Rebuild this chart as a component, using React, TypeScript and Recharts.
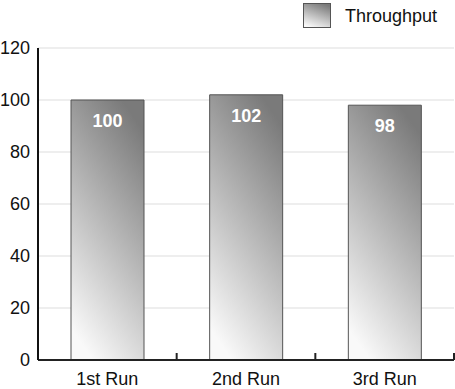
import { BarChart, Bar, XAxis, YAxis, CartesianGrid, LabelList } from "recharts";

const runs = ["1st Run", "2nd Run", "3rd Run"];
const throughput = [100, 102, 98];
const yTicks = [0, 20, 40, 60, 80, 100, 120];

const data = runs.map((run, i) => ({ run, throughput: throughput[i] }));

const font = "'Liberation Sans', Arial, sans-serif";

// label centred under the bar, small tick mark at the right edge of each category band
const RunTick = (props: any) => {
  const { x, y, payload } = props;
  const half = payload && payload.offset ? payload.offset : 69.5;
  const axisY = y - 14;
  return (
    <g>
      <line x1={x + half} x2={x + half} y1={axisY} y2={axisY - 7} stroke="#222" strokeWidth={2} />
      <text x={x} y={y} dy={11} textAnchor="middle" fontSize={18} fill="#111" fontFamily={font}>
        {payload.value}
      </text>
    </g>
  );
};

const App = () => {
  return (
    <div style={{ position: "absolute", left: 0, top: 0, width: 455, height: 389, background: "#fff" }}>
      <svg width={0} height={0} style={{ position: "absolute" }}>
        <defs>
          <linearGradient id="barGrad" x1="0.7" y1="0" x2="0.3" y2="1">
            <stop offset="0%" stopColor="#7a7a7a" />
            <stop offset="100%" stopColor="#f9f9f9" />
          </linearGradient>
        </defs>
      </svg>
      <BarChart
        width={455}
        height={389}
        data={data}
        margin={{ top: 48, right: 1, left: 0, bottom: 0 }}
        barSize={73}
      >
        <CartesianGrid vertical={false} stroke="#dddddd" />
        <XAxis
          dataKey="run"
          height={29}
          tickLine={false}
          axisLine={{ stroke: "#222", strokeWidth: 2 }}
          tick={<RunTick />}
          tickMargin={8}
        />
        <YAxis
          width={38}
          domain={[0, 120]}
          ticks={yTicks}
          tickLine={false}
          axisLine={{ stroke: "#111", strokeWidth: 2 }}
          tick={{ fontSize: 18, fill: "#111", fontFamily: font }}
          tickMargin={2}
        />
        <Bar dataKey="throughput" fill="url(#barGrad)" stroke="#555" strokeWidth={1} isAnimationActive={false}>
          <LabelList
            dataKey="throughput"
            position="insideTop"
            offset={14}
            fill="#fff"
            fontSize={18}
            fontWeight="bold"
            fontFamily={font}
          />
        </Bar>
      </BarChart>
      <div
        style={{
          position: "absolute",
          top: 3,
          left: 303,
          display: "flex",
          alignItems: "center",
          fontFamily: font,
          fontSize: 18,
          color: "#111",
        }}
      >
        <svg width={29} height={26} style={{ marginRight: 13 }}>
          <rect x={0.5} y={0.5} width={27} height={24} fill="url(#barGrad)" stroke="#555" />
        </svg>
        <span>Throughput</span>
      </div>
    </div>
  );
};

export default App;
